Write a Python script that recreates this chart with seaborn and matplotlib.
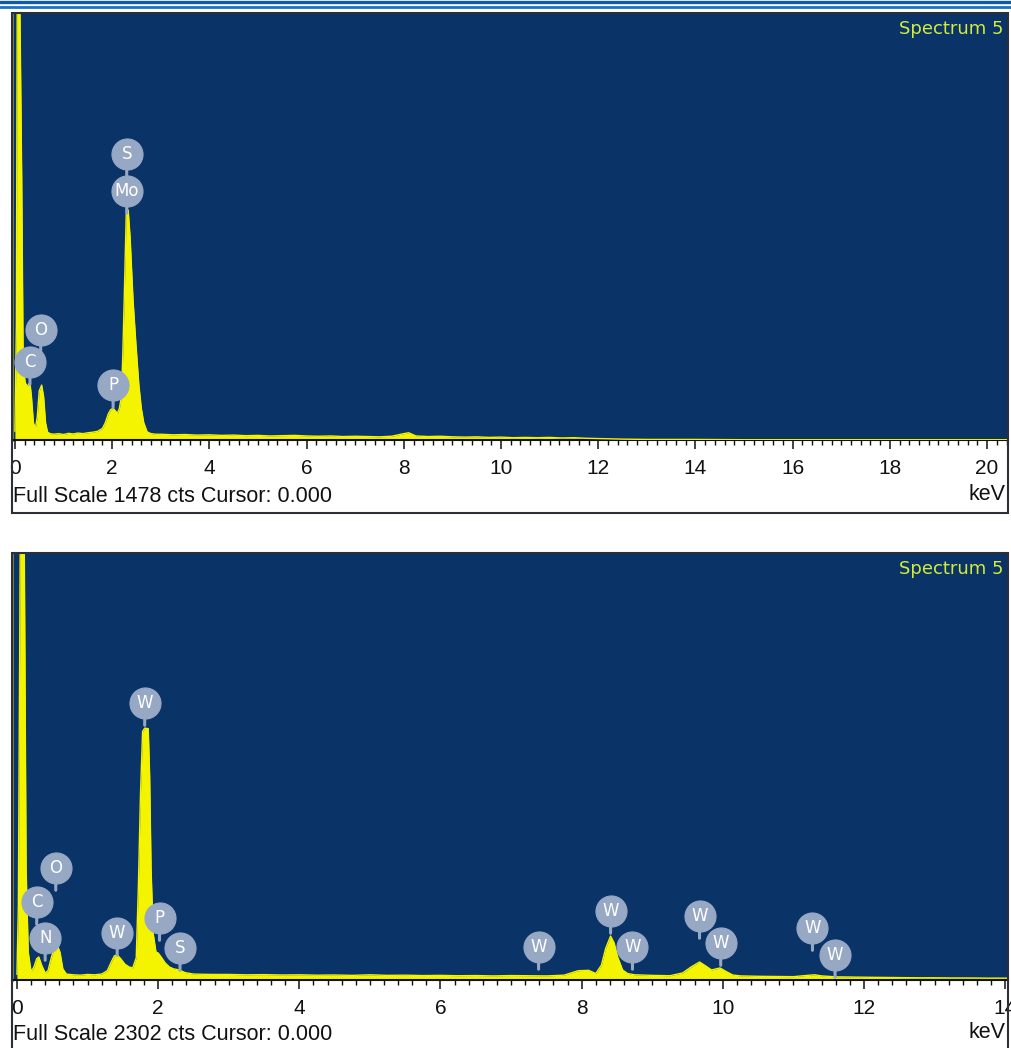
import matplotlib
matplotlib.use("Agg")
import matplotlib.pyplot as plt
import seaborn as sns
import pandas as pd
from matplotlib.patches import Rectangle
from matplotlib.lines import Line2D
from matplotlib.ticker import MultipleLocator

# ---------------- data ----------------
top_kev = [0.00, 0.03, 0.05, 0.09, 0.14, 0.17, 0.21, 0.25, 0.29, 0.31, 0.34, 0.38, 0.42, 0.46,
           0.50, 0.55, 0.59, 0.63, 0.67, 0.72, 0.80, 0.90, 1.00, 1.10, 1.20, 1.30, 1.40, 1.50,
           1.60, 1.70, 1.80, 1.86, 1.92, 1.97, 2.02, 2.07, 2.11, 2.15, 2.19, 2.22, 2.25, 2.29,
           2.33, 2.37, 2.43, 2.49, 2.55, 2.60, 2.65, 2.72, 2.80, 2.90,
           3.00, 3.25, 3.50, 3.75, 4.00, 4.25, 4.50, 4.75, 5.00, 5.25, 5.50, 5.75, 6.00, 6.25,
           6.50, 6.75, 7.00, 7.25, 7.50, 7.75, 8.00, 8.10, 8.25, 8.50, 8.75, 9.00, 9.25, 9.50,
           9.75, 10.00, 10.25, 10.50, 10.75, 11.00, 11.25, 11.50, 11.75, 12.00, 12.50, 13.00,
           14.00, 15.00, 16.00, 17.00, 18.00, 19.00, 20.00, 20.43]
top_cts = [30, 400, 1700, 1700, 900, 260, 200, 185, 195, 197, 150, 60, 40, 80,
           170, 190, 150, 60, 28, 22, 20, 22, 19, 23, 21, 24, 22, 25,
           27, 30, 40, 60, 90, 105, 110, 100, 93, 110, 150, 300, 500, 780,
           796, 700, 484, 330, 190, 110, 60, 28, 22, 20,
           20, 18, 19, 17, 18, 16, 17, 15, 16, 14, 15, 16, 14, 13,
           14, 12, 13, 12, 11, 13, 22, 25, 14, 12, 13, 11, 10, 11,
           9, 10, 8, 9, 8, 9, 7, 8, 6, 5, 3, 2,
           2, 1, 1, 1, 1, 1, 1, 1]

bot_kev = [0.00, 0.02, 0.05, 0.10, 0.13, 0.16, 0.20, 0.24, 0.28, 0.31, 0.35, 0.40, 0.44, 0.48,
           0.53, 0.57, 0.61, 0.65, 0.70, 0.80, 0.90, 1.00, 1.10, 1.20, 1.28, 1.34, 1.38, 1.42,
           1.47, 1.53, 1.59, 1.64, 1.69, 1.72, 1.75, 1.78, 1.81, 1.86, 1.88, 1.90, 1.93, 1.97,
           2.00, 2.05, 2.10, 2.16, 2.22, 2.30, 2.38, 2.50, 2.75,
           3.00, 3.25, 3.50, 3.75, 4.00, 4.25, 4.50, 4.75, 5.00, 5.25, 5.50, 5.75, 6.00, 6.25,
           6.50, 6.75, 7.00, 7.25, 7.50, 7.75, 7.95, 8.10, 8.20, 8.28, 8.34, 8.41, 8.46, 8.51,
           8.58, 8.65, 8.75, 9.00, 9.25, 9.43, 9.55, 9.67, 9.76, 9.84, 9.96, 10.05, 10.14,
           10.25, 10.50, 10.75, 11.00, 11.20, 11.30, 11.40, 11.60, 11.80, 12.00, 12.25, 12.50,
           12.75, 13.00, 13.25, 13.50, 13.75, 14.04]
bot_cts = [30, 400, 2600, 2600, 600, 150, 45, 70, 115, 124, 80, 38, 50, 110,
           180, 189, 150, 60, 32, 28, 26, 30, 28, 32, 50, 100, 130, 135,
           115, 85, 70, 65, 120, 500, 1000, 1340, 1358, 1355, 1100, 600, 250, 150,
           146, 120, 92, 70, 60, 54, 40, 32, 30,
           30, 28, 29, 27, 28, 26, 27, 25, 28, 25, 26, 24, 25, 23,
           24, 22, 24, 23, 22, 26, 50, 52, 35, 80, 170, 237, 200, 124,
           54, 35, 28, 25, 23, 38, 70, 97, 75, 54, 65, 45, 27,
           22, 20, 19, 18, 25, 28, 22, 17, 16, 15, 14, 13,
           12, 12, 11, 11, 10, 10]

top_labels = ["S", "Mo", "O", "C", "P"]
top_label_kev = [2.30, 2.30, 0.53, 0.31, 2.02]
top_label_cts = [990, 862, 381, 270, 190]

bot_labels = ["W", "O", "C", "N", "W", "P", "S", "W", "W", "W", "W", "W", "W", "W"]
bot_label_kev = [1.81, 0.55, 0.28, 0.40, 1.42, 2.02, 2.31, 7.39, 8.41, 8.72, 9.67, 9.97, 11.27, 11.59]
bot_label_cts = [1493, 604, 420, 226, 253, 334, 172, 178, 372, 178, 345, 199, 280, 135]

top_full_scale = 1478
bot_full_scale = 2302
xtick_step = 2
title_text = "Spectrum 5"

# ---------------- style ----------------
sns.set_theme(style="white")
plt.rcParams["font.family"] = ["DejaVu Sans"]
NARROW = ["Liberation Sans", "DejaVu Sans"]

BG = "#0a3367"
YEL = "#f4f400"
LAB = "#97a8c5"
W, H = 1011, 1048

fig = plt.figure(figsize=(W / 100, H / 100), dpi=100)
fig.patch.set_facecolor("white")


def rect(l, t, r, b):
    return [l / W, 1 - b / H, (r - l) / W, (b - t) / H]


# header double line
for yy, lw, c in [(1.5, 2.4, "#0f5aa8"), (6.5, 2.0, "#1a72c8")]:
    fig.add_artist(Line2D([0, 1], [1 - yy / H, 1 - yy / H], color=c, lw=lw))

panels = [
    dict(kev=top_kev, cts=top_cts, full=top_full_scale, xlim=(-0.06, 20.43),
         top=13, axis=440, bottom=513, text_y=496, labels=top_labels,
         lk=top_label_kev, lc=top_label_cts),
    dict(kev=bot_kev, cts=bot_cts, full=bot_full_scale, xlim=(-0.07, 14.04),
         top=553, axis=980, bottom=1060, text_y=1035, labels=bot_labels,
         lk=bot_label_kev, lc=bot_label_cts),
]

for p in panels:
    ax = fig.add_axes(rect(12, p["top"], 1008, p["axis"]))
    ax.set_facecolor(BG)
    df = pd.DataFrame({"keV": p["kev"], "cts": p["cts"]})
    ax.fill_between(df["keV"], df["cts"], 0, color=YEL, lw=0, zorder=2)
    sns.lineplot(data=df, x="keV", y="cts", ax=ax, color=YEL, lw=1.0, zorder=3)
    ax.set_xlim(*p["xlim"])
    ax.set_ylim(0, p["full"])
    ax.set_xlabel("")
    ax.set_ylabel("")
    ax.set_yticks([])
    ax.xaxis.set_major_locator(MultipleLocator(xtick_step))
    ax.xaxis.set_minor_locator(MultipleLocator(0.2))
    ax.tick_params(axis="x", which="major", direction="out", length=6.5, width=1.1,
                   color="#111111", pad=7, labelsize=15, labelcolor="#111111", bottom=True)
    ax.tick_params(axis="x", which="minor", direction="out", length=3.5, width=1.0,
                   color="#111111", bottom=True)
    for lbl in ax.get_xticklabels():
        lbl.set_family(NARROW)
    for side in ["top", "right"]:
        ax.spines[side].set_visible(False)
    ax.spines["bottom"].set_color("#111111")
    ax.spines["bottom"].set_linewidth(1.5)
    ax.spines["left"].set_color("#8a8a40")
    ax.spines["left"].set_linewidth(2)

    # element labels
    for name, x, y in zip(p["labels"], p["lk"], p["lc"]):
        ax.annotate("", xy=(x, y), xycoords="data", xytext=(0, -16),
                    textcoords="offset points",
                    arrowprops=dict(arrowstyle="-", color=LAB, lw=2.2,
                                    shrinkA=0, shrinkB=0), zorder=4)
    sns.scatterplot(x=p["lk"], y=p["lc"], s=500, color=LAB, edgecolor=LAB,
                    linewidth=0.8, ax=ax, zorder=5, clip_on=False, legend=False)
    for name, x, y in zip(p["labels"], p["lk"], p["lc"]):
        ax.text(x, y, name, ha="center", va="center", color="white",
                fontsize=12, zorder=6)

    ax.text(0.995, 0.962, title_text, transform=ax.transAxes, ha="right",
            va="center", color="#d2ec3c", fontsize=13)

    # white strip frame
    fig.add_artist(Rectangle((12 / W, 1 - p["bottom"] / H), 996 / W,
                             (p["bottom"] - p["top"]) / H, transform=fig.transFigure,
                             fill=False, edgecolor="#2a2f3a", lw=1.5))
    fig.text(13 / W, 1 - p["text_y"] / H,
             f"Full Scale {p['full']} cts Cursor: 0.000", ha="left", va="center",
             fontsize=15.5, color="#111111", family=NARROW)
    fig.text(1006 / W, 1 - (p["text_y"] - 2) / H, "keV", ha="right", va="center",
             fontsize=15.5, color="#111111", family=NARROW)

fig.savefig("out.png", dpi=100, facecolor="white")
